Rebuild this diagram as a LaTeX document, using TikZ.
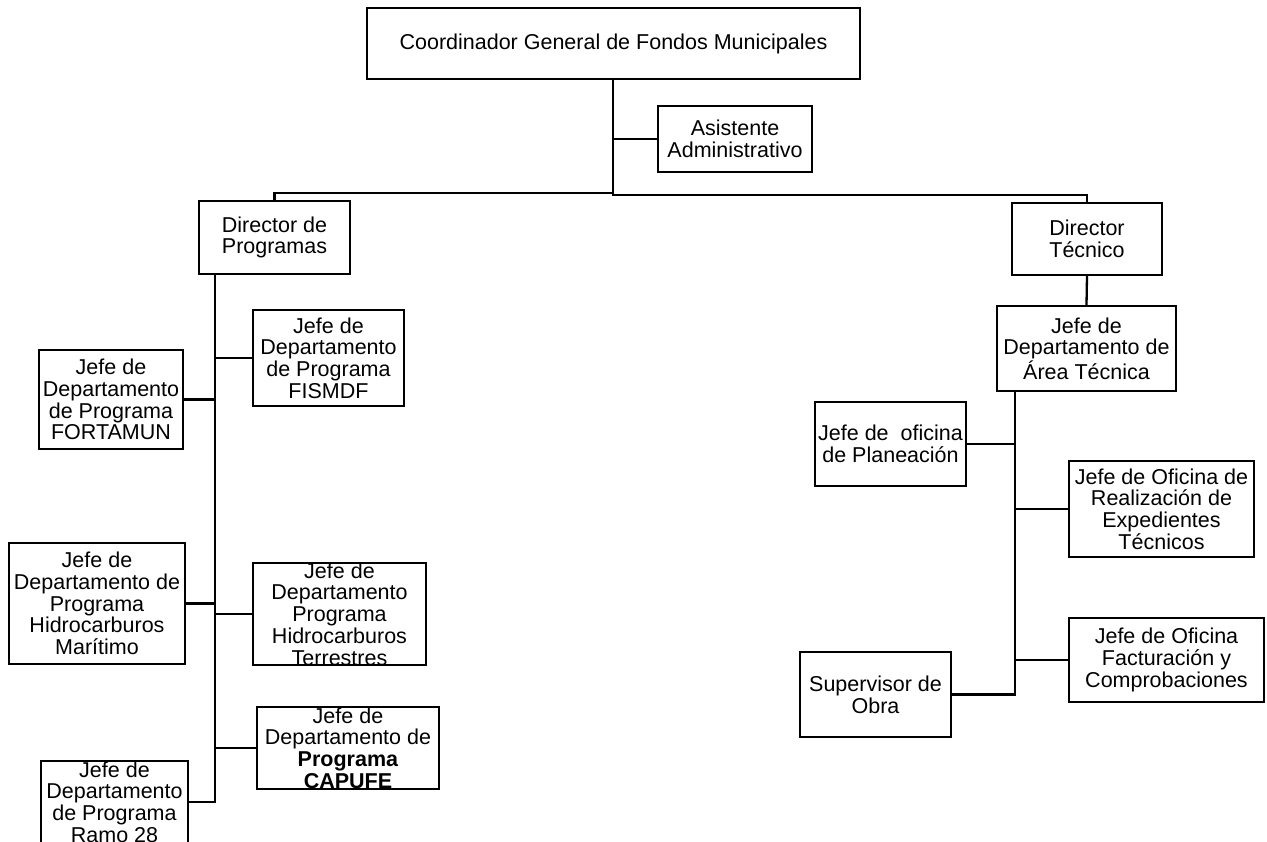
\documentclass[tikz,border=0pt]{standalone}
\usepackage{fontspec}
\setmainfont{Liberation Sans}
\newcommand{\orgfont}{\fontsize{21.5}{21.7}\selectfont}
\tikzset{
    cargo/.style={rectangle, draw, line width=2.3pt, inner sep=0pt, align=center, font=\orgfont},
    enlace/.style={line width=2.3pt},
}

\begin{document}
\begin{tikzpicture}[x=1pt, y=-1pt]
    \useasboundingbox (0,0) rectangle (1267,842);
    % direccion general
    \node[cargo, minimum width=493pt, minimum height=71pt] (coord) at (613.5,43.5) {Coordinador General de Fondos Municipales};
    \node[cargo, minimum width=154pt, minimum height=66pt] (asist) at (735,139) {Asistente\\Administrativo};
    \node[cargo, minimum width=151pt, minimum height=73pt] (dprog) at (274.5,237.5) {Director de\\Programas};
    \node[cargo, minimum width=150pt, minimum height=72pt] (dtec) at (1087,239) {Director\\Técnico};
    % programas
    \node[cargo, minimum width=151pt, minimum height=96pt] (fismdf) at (328.5,358) {Jefe de\\Departamento\\de Programa\\FISMDF};
    \node[cargo, minimum width=144pt, minimum height=99pt] (fortamun) at (111,399.5) {Jefe de\\Departamento\\de Programa\\FORTAMUN};
    \node[cargo, minimum width=176pt, minimum height=121pt] (maritimo) at (97,603.5) {Jefe de\\Departamento de\\Programa\\Hidrocarburos\\Marítimo};
    \node[cargo, minimum width=173pt, minimum height=102pt] (terrestres) at (339.5,614) {Jefe de\\Departamento\\Programa\\Hidrocarburos\\Terrestres};
    \node[cargo, minimum width=182pt, minimum height=82pt] (capufe) at (348,748) {Jefe de\\Departamento de\\\textbf{Programa}\\\textbf{CAPUFE}};
    \node[cargo, minimum width=147pt, minimum height=82pt] (ramo) at (114.5,802) {Jefe de\\Departamento\\de Programa\\Ramo 28};
    % area tecnica
    \node[cargo, minimum width=179pt, minimum height=85pt] (atec) at (1086.5,348.5) {Jefe de\\Departamento de\\Área Técnica};
    \node[cargo, minimum width=151pt, minimum height=84pt] (plan) at (890.5,444) {Jefe de~ oficina\\de Planeación};
    \node[cargo, minimum width=185pt, minimum height=96pt] (realiz) at (1161.5,509) {Jefe de Oficina de\\Realización de\\Expedientes\\Técnicos};
    \node[cargo, minimum width=195pt, minimum height=84pt] (factur) at (1166.5,660) {Jefe de Oficina\\Facturación y\\Comprobaciones};
    \node[cargo, minimum width=151pt, minimum height=85pt] (superv) at (875.5,694.5) {Supervisor de\\Obra};

    % lineas de mando
    \coordinate (jt) at (613,195);
    \coordinate (lt) at (215,0);
    \coordinate (rt) at (1015,0);
    \draw[enlace] (coord.south -| jt) -- (jt) -| (dtec.north);
    \draw[enlace] (613,193) -| (dprog.north);
    \draw[enlace] (asist.west) -- (asist.west -| jt);
    \draw[enlace] (dtec.south) -- (atec.north);

    \draw[enlace] (dprog.south -| lt) -- (ramo.east -| lt) -- (ramo.east);
    \draw[enlace] (fismdf.west) -- (fismdf.west -| lt);
    \draw[enlace] (fortamun.east) -- (fortamun.east -| lt);
    \draw[enlace] (maritimo.east) -- (maritimo.east -| lt);
    \draw[enlace] (terrestres.west) -- (terrestres.west -| lt);
    \draw[enlace] (capufe.west) -- (capufe.west -| lt);

    \draw[enlace] (atec.south -| rt) -- (superv.east -| rt) -- (superv.east);
    \draw[enlace] (plan.east) -- (plan.east -| rt);
    \draw[enlace] (realiz.west) -- (realiz.west -| rt);
    \draw[enlace] (factur.west) -- (factur.west -| rt);
\end{tikzpicture}
\end{document}
